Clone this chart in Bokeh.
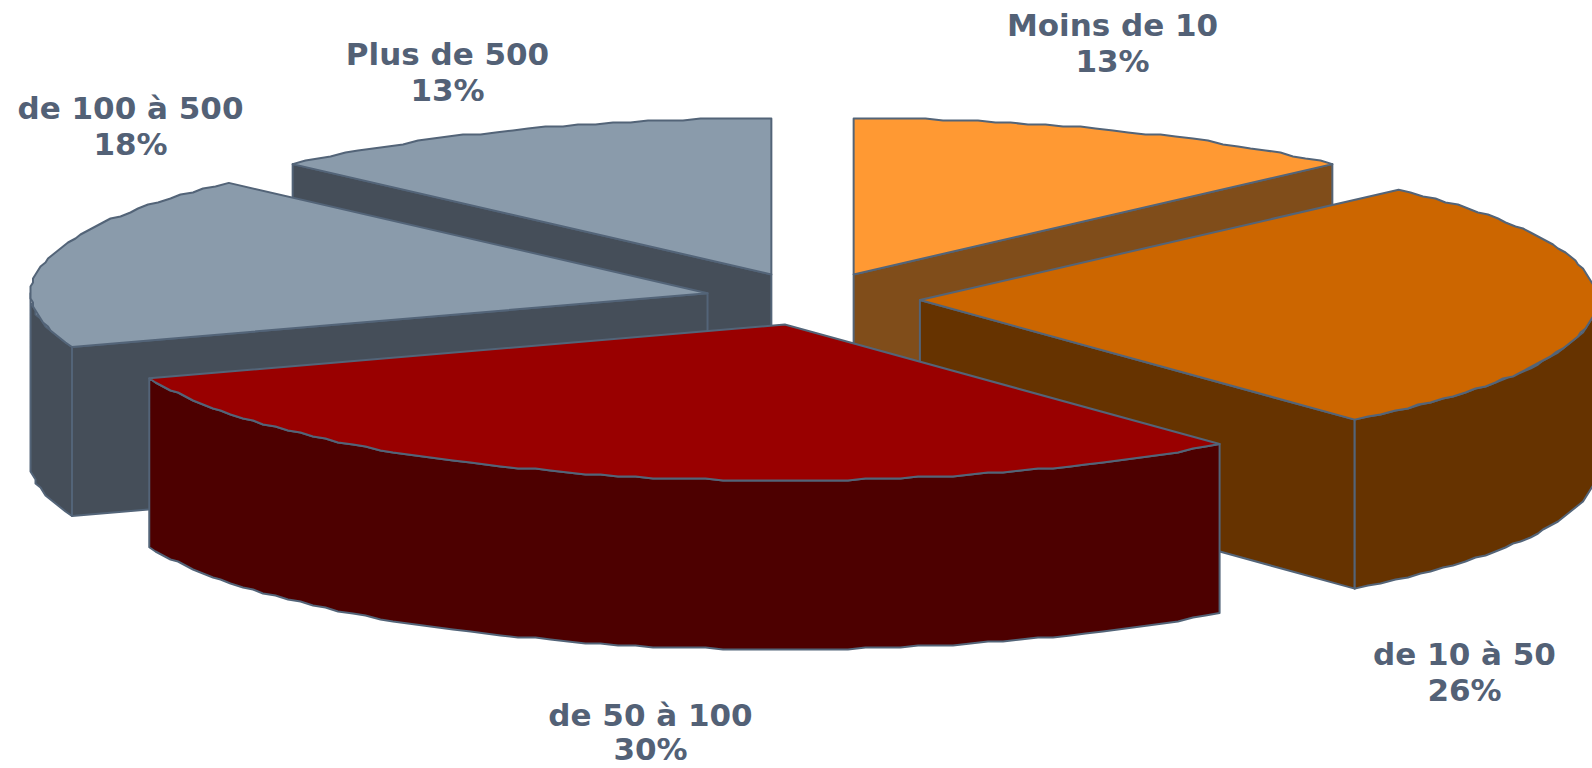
import numpy as np
from bokeh.plotting import figure
from bokeh.embed import file_html
from bokeh.resources import INLINE
from bokeh.core.properties import value

# --- data
categories = ["Moins de 10", "de 10 à 50", "de 50 à 100", "de 100 à 500", "Plus de 500"]
shares = [12.5, 26.4, 30.5, 18.1, 12.5]
percent_labels = ["13%", "26%", "30%", "18%", "13%"]

top_colors = ["#FF9933", "#CC6600", "#990000", "#8A9BAB", "#8A9BAB"]
side_colors = ["#804D1A", "#663300", "#4D0000", "#454E59", "#454E59"]
EDGE = "#536478"
TEXT = "#536176"

# --- layout (page pixels)
W, H = 1592, 768
CX, CY = 812, 298.4
RX, RY = 677, 156
DEPTH = 169
EX, EY = 107.5, 26.5
label_x = [1112, 1464, 650, 130, 447]
name_y = [24, 653, 714, 107, 53]
pct_y = [60.5, 689.5, 748, 143.5, 89.5]
draw_order = [4, 0, 3, 1, 2]

p = figure(width=W, height=H, x_range=(0, W), y_range=(H, 0),
           output_backend="svg", toolbar_location=None, min_border=0,
           background_fill_color="white", border_fill_color="white", outline_line_color=None)
p.axis.visible = False
p.grid.visible = False


def rim(cx, cy, t0, t1):
    n = max(2, int((t1 - t0) / 1.5))
    t = np.radians(np.linspace(t0, t1, n + 1))
    x = cx + RX * np.sin(t)
    y = cy - RY * np.cos(t)
    # the reference's arcs are stepped: quantise the interior samples
    qx, qy = np.round(x / 2.5) * 2.5, np.round(y / 2) * 2
    qx[0], qx[-1], qy[0], qy[-1] = x[0], x[-1], y[0], y[-1]
    return qx, qy


def face(xs, ys, fill):
    p.patch(list(xs), list(ys), fill_color=fill, line_color=EDGE, line_width=2, line_join="round")


edges = 360 * np.cumsum([0] + shares) / sum(shares)
for i in draw_order:
    a, b = edges[i], edges[i + 1]
    mid = np.radians((a + b) / 2)
    cx, cy = CX + EX * np.sin(mid), CY - EY * np.cos(mid)
    side = side_colors[i]
    # radial faces that look towards the viewer
    for ang, visible in ((a, np.sin(np.radians(a)) < -1e-6), (b, np.sin(np.radians(b)) > 1e-6)):
        if visible:
            r = np.radians(ang)
            ex, ey = cx + RX * np.sin(r), cy - RY * np.cos(r)
            face([cx, ex, ex, cx], [cy, ey, ey + DEPTH, cy + DEPTH], side)
    # front-facing outer wall
    lo, hi = max(a, 90), min(b, 270)
    if hi > lo:
        x, y = rim(cx, cy, lo, hi)
        face(np.r_[x, x[::-1]], np.r_[y, (y + DEPTH)[::-1]], side)
    # top
    x, y = rim(cx, cy, a, b)
    face(np.r_[cx, x], np.r_[cy, y], top_colors[i])

for name, pct, lx, ny, py in zip(categories, percent_labels, label_x, name_y, pct_y):
    for txt, yy in ((name, ny), (pct, py)):
        p.text([lx], [yy], text=[txt], text_align="center", text_baseline="middle",
               text_font=value("DejaVu Sans"), text_font_style="bold",
               text_font_size="31px", text_color=TEXT)

open("out.html", "w").write(file_html(p, INLINE))
